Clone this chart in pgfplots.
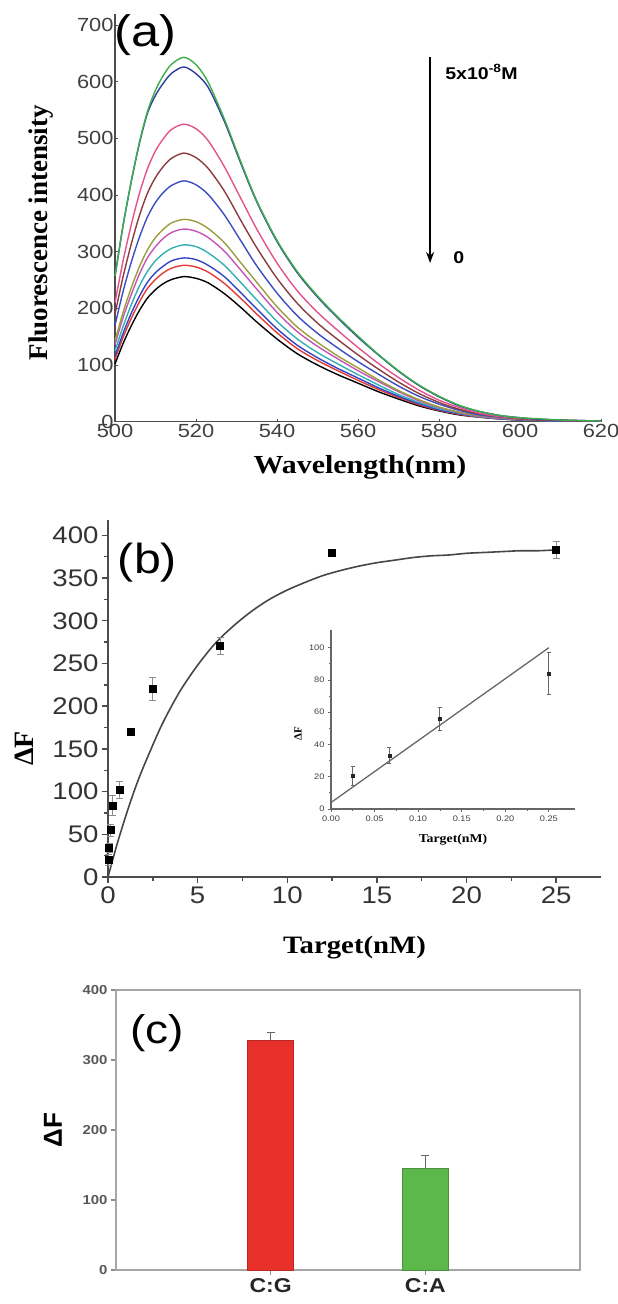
\documentclass[border=0pt]{standalone}
\usepackage{pgfplots}
\pgfplotsset{compat=1.18}
\usepackage{pgfplotstable}
\usetikzlibrary{arrows.meta}
\usepackage{fontspec}
\setmainfont{Liberation Sans}[FakeStretch=1.15]
\newfontfamily\sansr{Liberation Sans}
\newfontfamily\serifs{Liberation Serif}[FakeStretch=1.15]
\newfontfamily\serifr{Liberation Serif}
\newcommand{\fs}[1]{\fontsize{#1}{#1}\selectfont}
\definecolor{cgreen}{HTML}{3DAE4B}
\definecolor{cnavy}{HTML}{2E3D9C}
\definecolor{cpink}{HTML}{E2538C}
\definecolor{cbrown}{HTML}{8E3B3E}
\definecolor{cblueA}{HTML}{3B4DBF}
\definecolor{colive}{HTML}{9C9D3C}
\definecolor{corchid}{HTML}{C455B6}
\definecolor{cteal}{HTML}{33AFB3}
\definecolor{cblueB}{HTML}{3344C4}
\definecolor{cred}{HTML}{E33A36}
\definecolor{barred}{HTML}{E8302A}
\definecolor{bargreen}{HTML}{5DB84B}

\pgfplotstableread{
x g n p br bA ol orc t bB r k
500 257 256 210 190 170 143 136 125 116 110 102
502 347 346 284 256 230 193 184 168 156 149 138
504 424 423 347 313 281 236 224 206 191 182 169
506 492 490 402 363 325 273 260 239 221 211 196
508 547 544 446 403 361 303 289 265 246 235 218
510 585 576 478 431 387 325 309 284 263 251 233
512 612 598 500 451 405 340 324 297 275 263 244
514 631 615 516 465 417 351 334 306 284 271 251
517 643 626 525 474 425 357 340 312 289 276 256
520 630 614 517 466 418 353 336 309 286 273 253
523 599 590 496 447 401 341 325 298 276 264 245
527 534 530 450 407 365 316 301 276 256 244 226
531 460 457 395 356 320 281 268 246 228 218 202
535 390 388 340 307 275 246 234 215 199 190 176
540 320 318 280 253 227 203 193 177 164 157 146
545 265 263 231 209 187 167 159 146 135 129 120
550 222 220 193 174 156 140 133 122 113 108 100
555 185 183 161 145 130 116 111 102 94 90 83
560 151 149 131 118 106 95 90 83 77 73 68
565 119 118 103 93 84 74 71 65 60 57 53
570 90 89 78 70 63 55 53 48 45 43 40
575 65 64 56 50 45 39 37 34 32 30 28
580 45 44 38 34 31 26 25 23 21 20 19
585 29 28 25 22 20 17 16 15 14 13 12
590 18 18 15 14 12 11 10 9 9 8 8
595 11 11 9 9 8 7 6 6 5 5 5
600 7 7 6 5 5 4 4 4 3 3 3
605 5 4 4 3 3 3 3 2 2 2 2
610 3 3 3 2 2 2 2 2 1 1 1
615 2 2 2 1 1 1 1 1 1 1 1
620 1 1 1 1 1 1 1 1 1 1 1
}\spectra

\pgfplotstableread{
x y e
0.025 20 6
0.0625 34 5
0.125 55 7
0.25 84 12
0.625 102 10
1.25 170 4
2.5 220 13
6.25 271 10
12.5 380 4
25 383 10
}\titration

\pgfplotstableread{
x y e
0.025 20.5 6
0.067 33 5
0.125 56 7
0.25 84 13
}\insetdata

\begin{document}
\begin{tikzpicture}[x=1pt,y=1pt]
\useasboundingbox (0,0) rectangle (618,1304);

% ---------------- (a) ----------------
\begin{axis}[
  at={(115pt,882.3pt)}, anchor=south west,
  scale only axis, width=486pt, height=408pt,
  xmin=500, xmax=620, ymin=0, ymax=720,
  axis lines=left, axis line style={-, line width=1.6pt, color=black!70},
  xtick={500,520,...,620}, ytick={0,100,...,700},
  tick style={line width=1pt, color=black!70}, major tick length=3pt,
  tick align=inside,
  /pgf/number format/assume math mode=true,
  tick label style={font=\fs{19}, color=black!75},
  xticklabel style={yshift=1pt},
  yticklabel style={xshift=2pt},
  clip=false,
  every axis y label/.style={at={(axis description cs:-0.152,0.463)}, rotate=90, anchor=center},
  every axis x label/.style={at={(axis description cs:0.504,-0.113)}, anchor=center},
  ylabel={\serifr\bfseries\fs{27}Fluorescence intensity},
  xlabel={\serifs\bfseries\fs{26}Wavelength(nm)},
  every axis plot/.append style={line width=1.4pt, smooth},
]
\addplot[black] table[x=x,y=k] {\spectra};
\addplot[cred] table[x=x,y=r] {\spectra};
\addplot[cblueB] table[x=x,y=bB] {\spectra};
\addplot[cteal] table[x=x,y=t] {\spectra};
\addplot[corchid] table[x=x,y=orc] {\spectra};
\addplot[colive] table[x=x,y=ol] {\spectra};
\addplot[cblueA] table[x=x,y=bA] {\spectra};
\addplot[cbrown] table[x=x,y=br] {\spectra};
\addplot[cpink] table[x=x,y=p] {\spectra};
\addplot[cnavy] table[x=x,y=n] {\spectra};
\addplot[cgreen] table[x=x,y=g] {\spectra};
\draw[-{Stealth[length=11pt,width=8pt]}, line width=1.6pt] (axis cs:577.8,643) -- (axis cs:577.8,280);
\node[anchor=west, font=\bfseries\fs{17}, inner sep=0pt] at (axis cs:581.5,617) {5x10\textsuperscript{-8}M};
\node[anchor=west, font=\bfseries\fs{17}, inner sep=0pt] at (axis cs:583.5,290) {0};
\node[anchor=center, font=\fs{44}, inner sep=0pt] at (axis cs:507.6,683) {(a)};
\end{axis}

% ---------------- (b) ----------------
\begin{axis}[
  at={(108pt,427pt)}, anchor=south west,
  scale only axis, width=493pt, height=357pt,
  xmin=0, xmax=27.5, ymin=0, ymax=418,
  axis lines=left, axis line style={-, line width=1.8pt, color=black!70},
  xtick={0,5,...,25}, ytick={0,50,...,400},
  minor x tick num=1, minor y tick num=1,
  tick align=outside, major tick length=6pt, minor tick length=4pt,
  tick style={line width=1.4pt, color=black!70},
  /pgf/number format/assume math mode=true,
  tick label style={font=\fs{24}, color=black!80},
  clip=false,
  every axis y label/.style={at={(axis description cs:-0.17,0.36)}, rotate=90, anchor=center},
  every axis x label/.style={at={(axis description cs:0.50,-0.199)}, anchor=center},
  ylabel={\serifr\bfseries\fs{28}ΔF},
  xlabel={\serifs\bfseries\fs{25}Target(nM)},
]
\addplot[smooth, line width=1.6pt, color=black!72] coordinates {
(0,0) (0.5,38) (1,72) (1.5,103) (2,130) (3,178) (4,217) (5,248) (6,274) (7,294)
(8,311) (9,325) (10,336) (11,345) (12,353) (13,359) (14,364) (15,368) (16,371)
(17,374) (18,376) (19,377) (20,379) (21,380) (22,381) (23,382) (24,382) (25,383)};
\addplot[only marks, mark=square*, mark size=3.5pt, color=black,
  error bars/.cd, y dir=both, y explicit,
  error bar style={line width=1pt, black!45},
  error mark options={mark size=3.5pt, line width=1pt, black!45, rotate=90}]
  table[x=x, y=y, y error=e] {\titration};
\node[anchor=center, font=\fs{42}, inner sep=0pt] at (axis cs:2.2,368) {(b)};
\end{axis}

% ---------------- inset ----------------
\begin{axis}[
  at={(331pt,495pt)}, anchor=south west,
  scale only axis, width=244pt, height=179pt,
  xmin=0, xmax=0.28, ymin=0, ymax=111,
  axis lines=left, axis line style={-, line width=1.2pt, color=black!60},
  xtick={0,0.05,0.1,0.15,0.2,0.25}, ytick={0,20,...,100},
  minor x tick num=1, minor y tick num=1,
  tick align=outside, major tick length=3pt, minor tick length=2pt,
  tick style={line width=0.8pt, color=black!60},
  /pgf/number format/assume math mode=true,
  tick label style={font=\fs{8}, color=black!75},
  xticklabel style={/pgf/number format/.cd, fixed, fixed zerofill, precision=2},
  clip=false,
  every axis y label/.style={at={(axis description cs:-0.135,0.42)}, rotate=90, anchor=center},
  every axis x label/.style={at={(axis description cs:0.50,-0.173)}, anchor=center},
  ylabel={\serifr\bfseries\fs{11}ΔF},
  xlabel={\serifs\bfseries\fs{12}Target(nM)},
]
\addplot[line width=1.3pt, color=black!60] coordinates {(0,4) (0.25,100)};
\addplot[only marks, mark=square*, mark size=1.6pt, color=black!85,
  error bars/.cd, y dir=both, y explicit,
  error bar style={line width=0.9pt, black!60},
  error mark options={mark size=2pt, line width=0.9pt, black!60, rotate=90}]
  table[x=x, y=y, y error=e] {\insetdata};
\end{axis}

% ---------------- (c) ----------------
\begin{axis}[
  at={(116pt,34pt)}, anchor=south west,
  scale only axis, width=464pt, height=280pt,
  xmin=0, xmax=3, ymin=0, ymax=400,
  axis line style={line width=1.6pt, color=black!35},
  xtick={1,2}, xticklabels={C:G,C:A}, ytick={0,100,...,400},
  tick align=outside, xtick pos=left, ytick pos=left,
  major tick length=5pt, tick style={line width=1.2pt, color=black!45},
  /pgf/number format/assume math mode=true,
  tick label style={font=\bfseries\fs{13}, color=black!65},
  xticklabel style={font=\bfseries\fs{20}, color=black!85},
  clip=false,
  every axis y label/.style={at={(axis description cs:-0.136,0.5)}, rotate=90, anchor=center},
  ylabel={\sansr\bfseries\fs{26}ΔF},
]
\addplot[ybar, bar width=46pt, bar shift=0pt, fill=barred, draw=barred!80!black, line width=0.6pt,
  error bars/.cd, y dir=plus, y explicit,
  error bar style={line width=1pt, black!60},
  error mark options={mark size=4pt, line width=1pt, black!60, rotate=90}]
  coordinates {(1,328) +- (0,11)};
\addplot[ybar, bar width=46pt, bar shift=0pt, fill=bargreen, draw=bargreen!80!black, line width=0.6pt,
  error bars/.cd, y dir=plus, y explicit,
  error bar style={line width=1pt, black!60},
  error mark options={mark size=4pt, line width=1pt, black!60, rotate=90}]
  coordinates {(2,145) +- (0,19)};
\node[anchor=center, font=\fs{40}, inner sep=0pt] at (axis cs:0.265,339) {(c)};
\end{axis}
\end{tikzpicture}
\end{document}
